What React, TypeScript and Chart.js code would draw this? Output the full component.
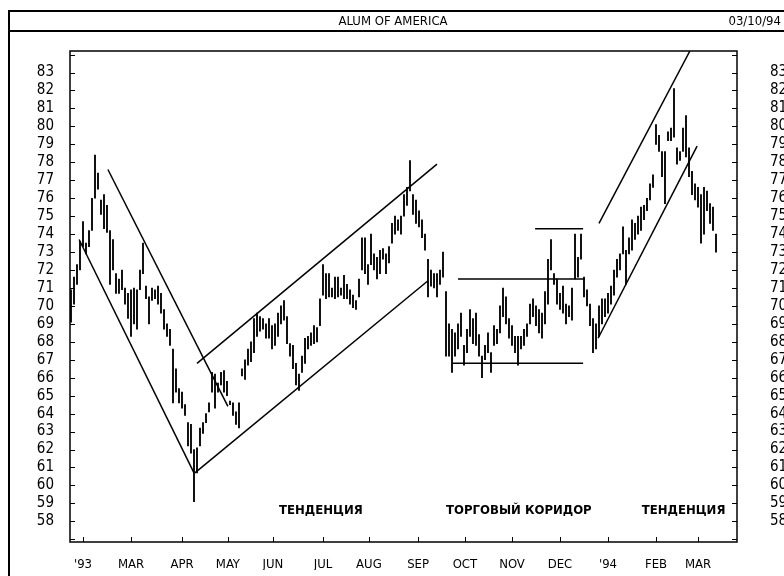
import React, { useEffect, useRef } from 'react';
import { Chart, registerables } from 'chart.js';

Chart.register(...registerables);

// ---- data (bar index = trading-session step) ----
const highs = [
  70.9, 71.6, 72.3, 73.6, 74.7, 73.5, 74.2, 76.0, 78.4, 77.4,
  75.9, 76.2, 75.6, 74.2, 73.7, 71.8, 71.5, 72.0, 71.0, 70.7,
  70.9, 71.0, 70.9, 72.0, 73.5, 71.1, 70.5, 71.0, 70.9, 71.1,
  70.7, 69.8, 69.0, 68.7, 67.6, 66.5, 65.4, 65.2, 64.5, 63.5,
  63.4, 62.0, 62.1, 63.2, 63.5, 64.0, 64.6, 66.3, 66.2, 65.7,
  66.3, 66.4, 65.8, 64.7, 64.6, 64.1, 64.6, 66.5, 67.0, 67.6,
  68.0, 69.3, 69.6, 69.4, 69.3, 69.0, 69.3, 68.9, 69.0, 69.6,
  70.0, 70.3, 69.4, 67.9, 67.8, 66.8, 66.2, 67.2, 68.2, 68.3,
  68.5, 68.9, 68.8, 70.4, 72.3, 71.8, 71.8, 71.0, 71.6, 71.6,
  71.0, 71.7, 71.2, 70.9, 70.6, 70.3, 71.5, 73.8, 73.8, 72.3,
  74.0, 72.9, 72.7, 73.1, 73.2, 72.9, 73.3, 74.6, 75.0, 74.8,
  75.0, 76.2, 76.6, 78.1, 76.2, 75.9, 75.3, 74.8, 74.0, 72.6,
  72.0, 71.8, 71.8, 72.0, 73.0, 70.8, 69.0, 68.7, 68.5, 69.0,
  69.6, 67.8, 68.7, 69.8, 69.3, 69.6, 68.4, 67.2, 67.8, 68.5,
  67.4, 68.9, 68.7, 70.0, 71.0, 70.5, 69.3, 68.9, 68.3, 68.3,
  68.3, 68.7, 69.0, 70.1, 70.4, 70.0, 69.8, 69.6, 70.8, 72.6,
  73.7, 71.8, 71.5, 70.7, 71.1, 70.1, 70.0, 71.0, 74.0, 72.7,
  74.0, 71.6, 70.9, 70.1, 69.3, 69.0, 70.0, 70.4, 70.4, 70.7,
  71.1, 72.0, 72.6, 72.9, 74.4, 73.1, 73.8, 74.8, 74.6, 75.0,
  75.5, 75.6, 76.0, 76.8, 77.3, 80.1, 79.5, 78.6, 78.6, 79.7,
  79.9, 82.1, 78.8, 78.6, 79.9, 80.6, 78.8, 77.5, 76.8, 76.6,
  76.2, 76.6, 76.4, 75.7, 75.5, 74.0,
];

const lows = [
  69.1, 70.1, 71.2, 72.0, 73.3, 72.9, 73.3, 74.2, 76.0, 76.5,
  75.1, 74.3, 74.1, 71.2, 72.0, 70.7, 70.7, 70.9, 70.1, 69.3,
  68.3, 69.0, 68.7, 70.9, 71.8, 70.4, 69.0, 70.3, 70.4, 70.1,
  69.6, 68.7, 68.3, 67.8, 64.6, 65.2, 64.6, 64.3, 63.9, 62.2,
  61.8, 59.1, 60.7, 62.2, 62.9, 63.5, 64.1, 65.2, 64.3, 65.2,
  65.6, 65.2, 65.0, 64.5, 63.9, 63.4, 63.2, 66.1, 65.9, 66.7,
  66.9, 67.4, 68.3, 68.6, 68.7, 68.2, 68.2, 67.6, 67.8, 68.3,
  69.0, 69.2, 67.9, 67.2, 66.5, 65.6, 65.3, 66.3, 66.8, 67.6,
  67.8, 67.9, 68.0, 68.9, 70.6, 70.4, 70.5, 70.5, 70.4, 70.5,
  70.6, 70.4, 70.4, 70.1, 69.9, 69.8, 70.5, 72.0, 71.8, 71.2,
  72.3, 72.0, 71.5, 71.8, 72.6, 71.8, 72.4, 73.5, 74.0, 74.2,
  74.0, 75.0, 75.6, 76.4, 75.1, 74.6, 74.4, 73.8, 73.1, 70.5,
  71.1, 71.0, 70.5, 71.2, 71.6, 67.2, 67.2, 66.3, 67.2, 67.6,
  68.3, 66.7, 67.4, 68.3, 67.9, 67.8, 67.2, 66.0, 67.0, 67.4,
  66.3, 67.8, 67.9, 68.5, 69.4, 69.0, 68.2, 67.8, 67.4, 66.7,
  67.6, 67.8, 68.3, 69.0, 69.4, 68.9, 68.5, 68.2, 69.0, 70.1,
  72.0, 71.2, 70.1, 69.8, 69.6, 69.0, 69.4, 69.2, 71.5, 71.6,
  72.6, 70.5, 70.0, 68.9, 67.4, 67.6, 68.3, 69.0, 69.4, 69.6,
  70.1, 70.6, 71.6, 72.0, 72.9, 71.2, 72.9, 73.1, 73.7, 74.0,
  74.2, 74.8, 75.3, 75.9, 76.6, 79.0, 78.6, 77.2, 75.7, 79.2,
  79.2, 79.4, 77.9, 78.1, 78.6, 78.3, 77.2, 76.2, 75.9, 75.5,
  73.5, 74.0, 75.3, 74.6, 74.2, 73.0,
];

// month tick positions (in bar-index units) and labels
const monthTickIdx = [4, 20, 37, 52.3, 67.3, 84, 99.3, 115.7, 131.3, 147, 163, 179, 195, 209];
const monthLabels = ["'93", 'MAR', 'APR', 'MAY', 'JUN', 'JUL', 'AUG', 'SEP', 'OCT', 'NOV', 'DEC', "'94", 'FEB', 'MAR'];

const yTicks = [57, 58, 59, 60, 61, 62, 63, 64, 65, 66, 67, 68, 69, 70, 71, 72, 73, 74, 75, 76, 77, 78, 79, 80, 81, 82, 83, 84];
const yLabelMin = 58;
const yLabelMax = 83;

// trend lines: [startIdx, startPrice, endIdx, endPrice]
const downLower = [2.7, 73.7, 41, 60.7];
const downUpper = [12.3, 77.6, 52.3, 64.4];
const upUpper = [42, 66.8, 122, 77.9];
const upLower = [41.3, 60.7, 119, 71.4];
const corridorTop = [129, 71.5, 171.3, 71.5];
const corridorHigh = [154.7, 74.3, 170.7, 74.3];
const corridorBottom = [127.3, 66.8, 170.7, 66.8];
const up2Lower = [175.7, 68.2, 208.7, 78.9];
const up2Upper = [176, 74.6, 206.3, 84.2];
const trendLines = [downLower, downUpper, upUpper, upLower, corridorTop, corridorHigh, corridorBottom, up2Lower, up2Upper];

const annotTexts = ['ТЕНДЕНЦИЯ', 'ТОРГОВЫЙ КОРИДОР', 'ТЕНДЕНЦИЯ'];
const annotX = [83.3, 149.3, 204.2];
const annotY = [58.6, 58.6, 58.6];

const titleText = 'ALUM OF AMERICA';
const dateText = '03/10/94';

const FONT = '"DejaVu Sans Condensed", "Liberation Sans Narrow", "DejaVu Sans", sans-serif';

const framePlugin = {
  id: 'frame',
  beforeDraw(chart: any) {
    const c = chart.ctx;
    c.save();
    c.fillStyle = '#fff';
    c.fillRect(0, 0, chart.width, chart.height);
    c.restore();
  },
  afterDraw(chart: any) {
    const { ctx, chartArea: a, scales } = chart;
    ctx.save();
    ctx.strokeStyle = '#000';
    ctx.fillStyle = '#000';
    // outer frame / title band
    ctx.lineWidth = 2;
    ctx.beginPath();
    ctx.moveTo(8, 11);
    ctx.lineTo(chart.width, 11);
    ctx.moveTo(8, 31);
    ctx.lineTo(chart.width, 31);
    ctx.moveTo(9, 10);
    ctx.lineTo(9, chart.height);
    ctx.stroke();
    // plot border
    ctx.lineWidth = 1.5;
    ctx.strokeRect(a.left, a.top, a.right - a.left, a.bottom - a.top);
    // inward tick marks
    ctx.lineWidth = 1;
    ctx.beginPath();
    for (const v of yTicks) {
      const y = Math.round(scales.y.getPixelForValue(v)) + 0.5;
      ctx.moveTo(a.left, y);
      ctx.lineTo(a.left + 5, y);
      ctx.moveTo(a.right - 5, y);
      ctx.lineTo(a.right, y);
    }
    for (const v of monthTickIdx) {
      const x = Math.round(scales.x.getPixelForValue(v)) + 0.5;
      ctx.moveTo(x, a.bottom);
      ctx.lineTo(x, a.bottom - 5);
    }
    ctx.stroke();
    // header texts
    ctx.font = '13px ' + FONT;
    ctx.textBaseline = 'middle';
    ctx.textAlign = 'center';
    ctx.fillText(titleText, 393, 22);
    ctx.textAlign = 'right';
    ctx.fillText(dateText, 781, 22);
    // annotations
    ctx.font = 'bold 13px ' + FONT;
    ctx.textAlign = 'center';
    annotTexts.forEach((t, i) => {
      ctx.fillText(t, scales.x.getPixelForValue(annotX[i]), scales.y.getPixelForValue(annotY[i]));
    });
    ctx.restore();
  },
};

export default function App() {
  const ref = useRef<HTMLCanvasElement | null>(null);

  useEffect(() => {
    if (!ref.current) return;
    const tickFont = { family: FONT, size: 15 };
    const yCommon = {
      type: 'linear' as const,
      min: 56.85,
      max: 84.2,
      grid: { display: false },
      border: { display: false },
      afterBuildTicks: (s: any) => {
        s.ticks = yTicks.map((v) => ({ value: v }));
      },
    };
    const chart = new Chart(ref.current, {
      type: 'bar',
      data: {
        datasets: [
          {
            type: 'bar',
            data: highs.map((h, i) => ({ x: i, y: [lows[i], h] })) as any,
            backgroundColor: '#000',
            borderWidth: 0,
            barThickness: 1.2,
            xAxisID: 'x',
            yAxisID: 'y',
            order: 2,
          },
          ...trendLines.map((seg) => ({
            type: 'line' as const,
            data: [
              { x: seg[0], y: seg[1] },
              { x: seg[2], y: seg[3] },
            ],
            borderColor: '#000',
            borderWidth: 1.5,
            pointRadius: 0,
            fill: false,
            xAxisID: 'x',
            yAxisID: 'y',
            order: 1,
          })),
        ] as any,
      },
      options: {
        responsive: false,
        animation: false,
        layout: { padding: { top: 51, left: 0, right: 0, bottom: 0 } },
        plugins: { legend: { display: false }, tooltip: { enabled: false }, title: { display: false } },
        scales: {
          x: {
            type: 'linear',
            min: -0.333,
            max: 222,
            offset: false,
            grid: { display: false },
            border: { display: false },
            afterBuildTicks: (s: any) => {
              s.ticks = monthTickIdx.map((v) => ({ value: v }));
            },
            afterFit: (s: any) => {
              s.height = 28;
            },
            ticks: {
              autoSkip: false,
              maxRotation: 0,
              padding: 7,
              color: '#000',
              font: { family: FONT, size: 13 },
              callback: (_v: any, i: number) => monthLabels[i],
            },
          },
          y: {
            ...yCommon,
            position: 'left',
            afterFit: (s: any) => {
              s.width = 70;
            },
            ticks: {
              autoSkip: false,
              padding: 8,
              color: '#000',
              font: tickFont,
              callback: (v: any) => (v >= yLabelMin && v <= yLabelMax ? String(v) : ''),
            },
          },
          y2: {
            ...yCommon,
            position: 'right',
            afterFit: (s: any) => {
              s.width = 83;
            },
            ticks: {
              autoSkip: false,
              padding: 25,
              color: '#000',
              font: tickFont,
              callback: (v: any) => (v >= yLabelMin && v <= yLabelMax ? String(v) : ''),
            },
          },
        } as any,
      },
      plugins: [framePlugin],
    });
    return () => chart.destroy();
  }, []);

  return (
    <div
      style={{
        position: 'fixed',
        left: 0,
        top: 0,
        width: 784,
        height: 576,
        overflow: 'hidden',
        background: '#fff',
      }}
    >
      <canvas ref={ref} width={820} height={576} style={{ display: 'block' }} />
    </div>
  );
}
